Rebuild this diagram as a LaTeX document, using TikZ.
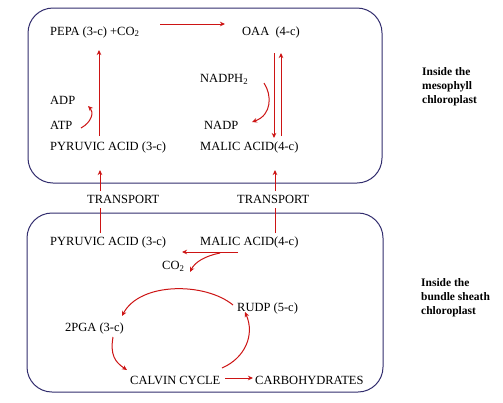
\documentclass[tikz,border=0pt]{standalone}
\usepackage{fontspec}
\setmainfont{Liberation Serif}
\usetikzlibrary{calc,arrows.meta}
\definecolor{arrred}{RGB}{205,20,20}
\definecolor{boxblue}{RGB}{50,45,110}
\begin{document}
\begin{tikzpicture}[x=1pt,y=-1pt,
  lbl/.style={anchor=west,inner sep=0pt,font=\fontsize{12.5}{14}\selectfont},
  side/.style={anchor=west,inner sep=0pt,align=left,font=\fontsize{11.5}{14}\selectfont\bfseries},
  arr/.style={draw=arrred,line width=1pt,-{Stealth[length=5pt,width=4.5pt,inset=1.5pt]}},
  plain/.style={draw=arrred,line width=1pt},
  cell/.style={draw=boxblue,line width=1pt,rounded corners=25pt}]
\useasboundingbox (0,0) rectangle (503,402);
\fill[white] (0,0) rectangle (503,402);
% boxes
\draw[cell] (28,8) rectangle (382,183);
\draw[cell] (27,213) rectangle (383,392);
% mesophyll nodes
\node[lbl] (pepa) at (50,32) {PEPA (3-c) +CO\textsubscript{2}};
\node[lbl] (oaa) at (242,32) {OAA\enspace(4-c)};
\node[lbl] (adp) at (50,100) {ADP};
\node[lbl] (atp) at (50,125) {ATP};
\node[lbl] (pyr1) at (50,147) {PYRUVIC ACID (3-c)};
\node[lbl] (nadph) at (200,79) {NADPH\textsubscript{2}};
\node[lbl] (nadp) at (204,125) {NADP};
\node[lbl] (mal1) at (200,147) {MALIC ACID(4-c)};
% transport
\node[lbl] (tr1) at (87,199) {TRANSPORT};
\node[lbl] (tr2) at (237,199) {TRANSPORT};
% bundle sheath nodes
\node[lbl] (pyr2) at (50,242) {PYRUVIC ACID (3-c)};
\node[lbl] (mal2) at (200,242) {MALIC ACID(4-c)};
\node[lbl] (co2) at (162,266) {CO\textsubscript{2}};
\node[lbl] (rudp) at (237,308) {RUDP (5-c)};
\node[lbl] (pga) at (65,328) {2PGA (3-c)};
\node[lbl] (calvin) at (130,380) {CALVIN CYCLE};
\node[lbl] (carbo) at (255,380) {CARBOHYDRATES};
% side labels
\node[side] (meso) at (422,87) {Inside the\\mesophyll\\chloroplast};
\node[side] (bund) at (421,298) {Inside the\\bundle sheath\\chloroplast};
% mesophyll arrows
\draw[arr] ($(pepa.west)+(110,-8)$) -- ($(oaa.west)+(-17,-8)$);
\draw[arr] ($(pyr1.west)+(49,-11)$) -- ($(pepa.west)+(49,18)$);
\draw[arr] ($(atp.west)+(31,3)$) .. controls ($(atp.west)+(42,-3)$) and ($(adp.west)+(44,12)$) .. ($(adp.west)+(38,6)$);
\draw[arr] ($(nadph.west)+(64,4)$) .. controls ($(nadph.west)+(72,16)$) and ($(nadp.west)+(68,-10)$) .. ($(nadp.west)+(48,-3)$);
\draw[arr] ($(oaa.west)+(32,21)$) -- ($(mal1.west)+(74,-9)$);
\draw[arr] ($(mal1.west)+(81,-11)$) -- ($(oaa.west)+(39,21)$);
% transport arrows
\draw[plain] ($(pyr2.west)+(50,-9)$) -- ($(tr1.west)+(13,9)$);
\draw[arr] ($(tr1.west)+(13,-8)$) -- ($(pyr1.west)+(50,23)$);
\draw[plain] ($(mal2.west)+(75,-9)$) -- ($(tr2.west)+(38,9)$);
\draw[arr] ($(tr2.west)+(38,-8)$) -- ($(mal1.west)+(75,23)$);
% bundle sheath arrows
\draw[arr] ($(mal2.west)+(38,10)$) -- ($(co2.west)+(20,-14)$);
\draw[arr] ($(mal2.west)+(20,11)$) .. controls ($(mal2.west)+(5,14)$) and ($(co2.west)+(33,-4)$) .. ($(co2.west)+(28,6)$);
\draw[arr] ($(rudp.west)+(-4,-3)$) .. controls ($(rudp.west)+(-32,-26)$) and ($(pga.west)+(75,-46)$) .. ($(pga.west)+(57,-12)$);
\draw[arr] ($(pga.west)+(48,9)$) .. controls ($(pga.west)+(45,27)$) and ($(calvin.west)+(-15,-18)$) .. ($(calvin.west)+(-3,-10)$);
\draw[arr] ($(calvin.west)+(95,-2)$) -- ($(carbo.west)+(-2,-2)$);
\draw[arr] ($(calvin.west)+(92,-12)$) .. controls ($(calvin.west)+(115,-22)$) and ($(rudp.west)+(18,27)$) .. ($(rudp.west)+(8,4)$);
\end{tikzpicture}
\end{document}
